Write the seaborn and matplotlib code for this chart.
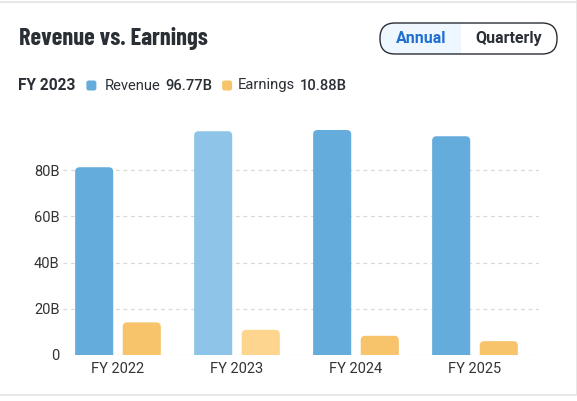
import numpy as np
import pandas as pd
import matplotlib
matplotlib.use("Agg")
import matplotlib.pyplot as plt
import seaborn as sns
from matplotlib.patches import FancyBboxPatch

# Data
years = ["FY 2022", "FY 2023", "FY 2024", "FY 2025"]
revenue = [81.2, 96.77, 97.3, 94.6]
earnings = [14.1, 10.88, 8.3, 6.0]
yticks = [0, 20, 40, 60, 80]
ytick_labels = ["0", "20B", "40B", "60B", "80B"]
selected = "FY 2023"

df = pd.DataFrame({
    "year": years * 2,
    "value": revenue + earnings,
    "kind": ["Revenue"] * len(years) + ["Earnings"] * len(years),
})

rev_color, earn_color = "#63acdb", "#f7c46c"
rev_light, earn_light = "#8dc4e8", "#fdd58f"
text_dark = "#2a2e35"

sns.set_style("white")
plt.rcParams["font.family"] = ["Roboto", "DejaVu Sans"]

fig = plt.figure(figsize=(5.77, 4.01), dpi=100)
ax = fig.add_axes([63 / 577, 46 / 401, 476 / 577, 242.8 / 401])

sns.barplot(data=df, x="year", y="value", hue="kind", ax=ax,
            palette=[rev_color, earn_color], width=0.8, gap=0.2,
            legend=False, saturation=1)

ax.set_xlim(-0.462, 3.538)
ax.set_ylim(0, 105)

# rounded tops, lighter colours for the selected year
px_x = 476 / 4.0
px_y = 242.8 / 105
r = 4.5 / px_x
aspect = px_x / px_y
for p in list(ax.patches):
    x, w, h = p.get_x(), p.get_width(), p.get_height()
    col = p.get_facecolor()
    idx = int(round(x + w / 2))
    is_rev = (x + w / 2) < idx
    if years[idx] == selected:
        col = rev_light if is_rev else earn_light
    fb = FancyBboxPatch((x, -3), w, h + 3,
                        boxstyle=f"round,pad=0,rounding_size={r}",
                        mutation_aspect=aspect, facecolor=col,
                        edgecolor="none", zorder=3)
    ax.add_patch(fb)
    p.set_visible(False)

ax.set_yticks(yticks)
ax.set_yticklabels(ytick_labels)
ax.yaxis.grid(True, linestyle=(0, (3, 3)), color="#d9d9d9", linewidth=0.9)
ax.set_axisbelow(True)
for s in ax.spines.values():
    s.set_visible(False)
ax.tick_params(axis="y", length=0, pad=2.5, labelsize=10.5, labelcolor="#333333")
ax.tick_params(axis="x", length=0, pad=5, labelsize=10.5, labelcolor="#333333")
ax.set_xlabel("")
ax.set_ylabel("")

# title
fig.text(19 / 577, 1 - 38.5 / 401, "Revenue vs. Earnings", fontsize=17.5,
         fontweight="bold", color=text_dark, va="center", ha="left",
         family=["Barlow Condensed", "Asap Condensed", "DejaVu Sans"])

# legend line, pieces chained left to right
renderer = fig.canvas.get_renderer()
ly = 1 - 85.5 / 401
fs = 10.6

def square(xpx, color):
    sq = FancyBboxPatch((xpx / 577, ly - 5 / 401), 10 / 577, 10 / 401,
                        boxstyle="round,pad=0,rounding_size=0.004",
                        mutation_aspect=577 / 401, transform=fig.transFigure,
                        facecolor=color, edgecolor="none")
    fig.add_artist(sq)

def put(xpx, s, size=fs, **kw):
    t = fig.text(xpx / 577, ly, s, fontsize=size, color=text_dark, va="center", **kw)
    return t.get_window_extent(renderer).x1

xe = put(18, "FY 2023", size=11.2, fontweight="bold")
square(xe + 11, rev_color)
xe = put(xe + 29, "Revenue")
xe = put(xe + 5, "96.77B", fontweight="medium")
square(xe + 10, earn_color)
xe = put(xe + 26, "Earnings")
put(xe + 5, "10.88B", fontweight="medium")

# Annual / Quarterly toggle
bx0, bx1, by0, by1 = 380, 557, 23, 54
hl = FancyBboxPatch((bx0 / 577, 1 - by1 / 401), (461 - bx0) / 577, (by1 - by0) / 401,
                    boxstyle="round,pad=0,rounding_size=0.026",
                    mutation_aspect=577 / 401, transform=fig.transFigure,
                    facecolor="#eef6ff", edgecolor="none")
fig.add_artist(hl)
hl2 = plt.Rectangle((430 / 577, 1 - by1 / 401), 31 / 577, (by1 - by0) / 401,
                    transform=fig.transFigure, facecolor="#eef6ff", edgecolor="none")
fig.add_artist(hl2)
box = FancyBboxPatch((bx0 / 577, 1 - by1 / 401), (bx1 - bx0) / 577, (by1 - by0) / 401,
                     boxstyle="round,pad=0,rounding_size=0.026",
                     mutation_aspect=577 / 401, transform=fig.transFigure,
                     facecolor="none", edgecolor="#2a2e35", linewidth=1.0)
fig.add_artist(box)
fig.text(421 / 577, 1 - 38.5 / 401, "Annual", fontsize=11.5, fontweight="bold",
         color="#1f6fd1", ha="center", va="center")
fig.text(509 / 577, 1 - 38.5 / 401, "Quarterly", fontsize=11.5, fontweight="bold",
         color=text_dark, ha="center", va="center")

# card borders
fig.add_artist(plt.Line2D([0, 1], [1 - 1.5 / 401] * 2, transform=fig.transFigure,
                          color="#e3e3e3", linewidth=1.2))
fig.add_artist(plt.Line2D([0, 576 / 577], [1 - 394.5 / 401] * 2,
                          transform=fig.transFigure, color="#e3e3e3", linewidth=1.2))
fig.add_artist(plt.Line2D([576.5 / 577] * 2, [1 - 394.5 / 401, 1],
                          transform=fig.transFigure, color="#e3e3e3", linewidth=1.2))

fig.savefig("out.png", dpi=100, facecolor="white")
